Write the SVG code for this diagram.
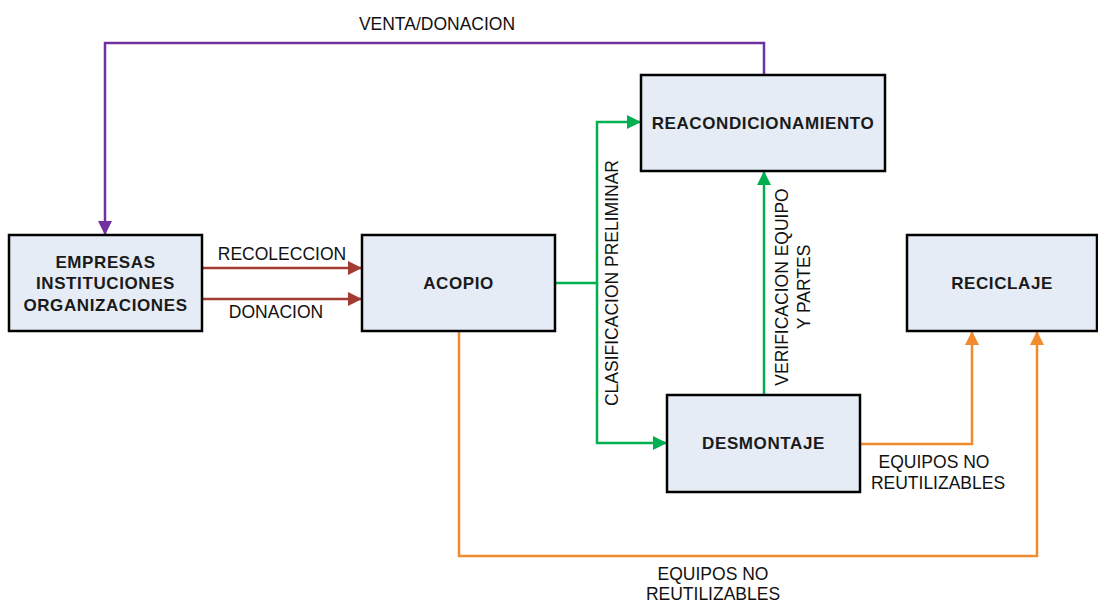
<svg xmlns="http://www.w3.org/2000/svg" width="1098" height="602" viewBox="0 0 1098 602">
<style>
.box{fill:#E5ECF6;stroke:#000;stroke-width:2.5}
.nl{font-family:"Liberation Sans",Arial,sans-serif;font-weight:bold;font-size:17px;fill:#1a1a1a;text-anchor:middle;letter-spacing:0.6px}
.lb{font-family:"Liberation Sans",Arial,sans-serif;font-size:17.5px;fill:#111;text-anchor:middle}
.c{fill:none;stroke-width:2.5}
.red{stroke:#A23B33}
.pur{stroke:#7030A0}
.grn{stroke:#00B050}
.org{stroke:#F28A2E}
</style>
<defs>
<marker id="aR" viewBox="0 0 14 14" refX="13" refY="7" markerWidth="14" markerHeight="14" markerUnits="userSpaceOnUse" orient="auto"><path d="M0,0 L14,7 L0,14 Z" fill="#A23B33"/></marker>
<marker id="aP" viewBox="0 0 14 14" refX="13" refY="7" markerWidth="14" markerHeight="14" markerUnits="userSpaceOnUse" orient="auto"><path d="M0,0 L14,7 L0,14 Z" fill="#7030A0"/></marker>
<marker id="aG" viewBox="0 0 14 14" refX="13" refY="7" markerWidth="14" markerHeight="14" markerUnits="userSpaceOnUse" orient="auto"><path d="M0,0 L14,7 L0,14 Z" fill="#00B050"/></marker>
<marker id="aO" viewBox="0 0 14 14" refX="13" refY="7" markerWidth="14" markerHeight="14" markerUnits="userSpaceOnUse" orient="auto"><path d="M0,0 L14,7 L0,14 Z" fill="#F28A2E"/></marker>
</defs>
<rect width="1098" height="602" fill="#fff"/>
<g id="connectors">
<path class="c red" d="M202,268 L361,268" marker-end="url(#aR)"/>
<path class="c red" d="M202,299 L361,299" marker-end="url(#aR)"/>
<path class="c pur" d="M764,75 L764,43 L105,43 L105,234" marker-end="url(#aP)"/>
<path class="c grn" d="M555,283 L597,283 L597,122 L640,122" marker-end="url(#aG)"/>
<path class="c grn" d="M597,283 L597,443 L666,443" marker-end="url(#aG)"/>
<path class="c grn" d="M764,395 L764,172" marker-end="url(#aG)"/>
<path class="c org" d="M860,444 L972,444 L972,332" marker-end="url(#aO)"/>
<path class="c org" d="M459,331 L459,556 L1037,556 L1037,332" marker-end="url(#aO)"/>
<text class="lb" x="437" y="30">VENTA/DONACION</text>
<text class="lb" x="282" y="260">RECOLECCION</text>
<text class="lb" x="276" y="318">DONACION</text>
<text class="lb" transform="translate(618,283) rotate(-90)">CLASIFICACION PRELIMINAR</text>
<text class="lb" transform="translate(788,287) rotate(-90)">VERIFICACION EQUIPO</text>
<text class="lb" transform="translate(810,287) rotate(-90)">Y PARTES</text>
<text class="lb" x="934" y="468">EQUIPOS NO</text>
<text class="lb" x="938" y="489">REUTILIZABLES</text>
<text class="lb" x="713" y="580">EQUIPOS NO</text>
<text class="lb" x="713" y="600">REUTILIZABLES</text>
</g>
<g id="empresas">
<rect class="box" x="9" y="235" width="193" height="96"/>
<text class="nl" x="105.5" y="268">EMPRESAS</text>
<text class="nl" x="105.5" y="289">INSTITUCIONES</text>
<text class="nl" x="105.5" y="311">ORGANIZACIONES</text>
</g>
<g id="acopio">
<rect class="box" x="362" y="235" width="193" height="96"/>
<text class="nl" x="458.5" y="289">ACOPIO</text>
</g>
<g id="reacondicionamiento">
<rect class="box" x="641" y="75" width="244" height="96"/>
<text class="nl" x="763" y="129">REACONDICIONAMIENTO</text>
</g>
<g id="desmontaje">
<rect class="box" x="667" y="395" width="193" height="97"/>
<text class="nl" x="763.5" y="449">DESMONTAJE</text>
</g>
<g id="reciclaje">
<rect class="box" x="907" y="235" width="190" height="96"/>
<text class="nl" x="1002" y="289">RECICLAJE</text>
</g>
</svg>
